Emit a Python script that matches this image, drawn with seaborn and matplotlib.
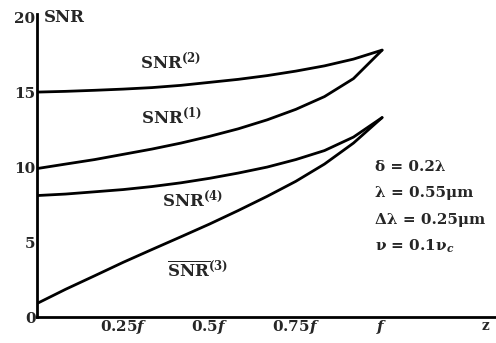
import pandas as pd
import matplotlib
matplotlib.use("Agg")
import matplotlib.pyplot as plt
import seaborn as sns

# position along z, as fraction of f (read every 1/12 f)
z = [0, 0.083, 0.167, 0.25, 0.333, 0.417, 0.5, 0.583, 0.667, 0.75, 0.833, 0.917, 1.0]
snr2 = [15.0, 15.05, 15.12, 15.2, 15.3, 15.45, 15.65, 15.85, 16.1, 16.4, 16.75, 17.2, 17.8]
snr1 = [9.9, 10.2, 10.5, 10.85, 11.2, 11.6, 12.05, 12.55, 13.15, 13.85, 14.7, 15.9, 17.8]
snr4 = [8.1, 8.2, 8.35, 8.5, 8.7, 8.95, 9.25, 9.6, 10.0, 10.5, 11.1, 12.0, 13.3]
snr3 = [0.9, 1.85, 2.75, 3.65, 4.5, 5.35, 6.2, 7.1, 8.05, 9.05, 10.2, 11.6, 13.3]

xticks = [0.25, 0.5, 0.75, 1.0, 1.23]
xlabels = ["0.25$f$", "0.5$f$", "0.75$f$", "$f$", ""]
yticks = [0, 5, 10, 15, 20]

n = len(z)
df = pd.DataFrame({"z": z * 4,
                   "snr": snr2 + snr1 + snr4 + snr3,
                   "curve": ["2"] * n + ["1"] * n + ["4"] * n + ["3"] * n})

sns.set_style("white")
plt.rcParams['font.family'] = ['DejaVu Serif']
plt.rcParams['font.weight'] = 'bold'
plt.rcParams['mathtext.fontset'] = 'dejavuserif'

fig = plt.figure(figsize=(4.96, 3.43), dpi=100)
ax = fig.add_axes([0.0746, 0.0758, 0.9254, 0.883])

sns.lineplot(data=df, x="z", y="snr", units="curve", estimator=None,
             color="black", linewidth=2.0, ax=ax, legend=False)

ax.set_xlim(0, 1.33)
ax.set_ylim(0, 20.2)
for s in ["top", "right"]:
    ax.spines[s].set_visible(False)
for s in ["left", "bottom"]:
    ax.spines[s].set_color("black")
    ax.spines[s].set_linewidth(2.0)

ax.set_xticks(xticks)
ax.set_xticklabels(xlabels, fontsize=11, fontweight="bold")
ax.set_yticks(yticks)
ax.set_yticklabels([str(v) for v in yticks], fontsize=11, fontweight="bold")
ax.tick_params(axis="x", direction="in", length=4, width=1.5, pad=1)
ax.tick_params(axis="y", direction="in", length=4, width=1.5, pad=1)
ax.set_xlabel("")
ax.set_ylabel("")

ax.text(0.02, 20.0, "SNR", fontsize=12, fontweight="bold", va="center", ha="left")
ax.text(1.30, -0.6, "z", fontsize=10, fontweight="bold", va="center", ha="center")

ax.text(0.386, 17.0, r"SNR$^{\mathbf{(2)}}$", fontsize=12, fontweight="bold",
        ha="center", va="center")
ax.text(0.39, 13.3, r"SNR$^{\mathbf{(1)}}$", fontsize=12, fontweight="bold",
        ha="center", va="center")
ax.text(0.45, 7.8, r"SNR$^{\mathbf{(4)}}$", fontsize=12, fontweight="bold",
        ha="center", va="center")
ax.text(0.464, 3.1, r"$\overline{\mathbf{SNR}}^{\mathbf{(3)}}$", fontsize=12,
        ha="center", va="center")

params = ["δ = 0.2λ", "λ = 0.55μm", "Δλ = 0.25μm", r"ν = 0.1ν$_c$"]
param_y = [10.0, 8.3, 6.5, 4.7]
for t, yy in zip(params, param_y):
    ax.text(0.98, yy, t, fontsize=11, fontweight="bold", ha="left", va="center")

fig.savefig("out.png", dpi=100)
